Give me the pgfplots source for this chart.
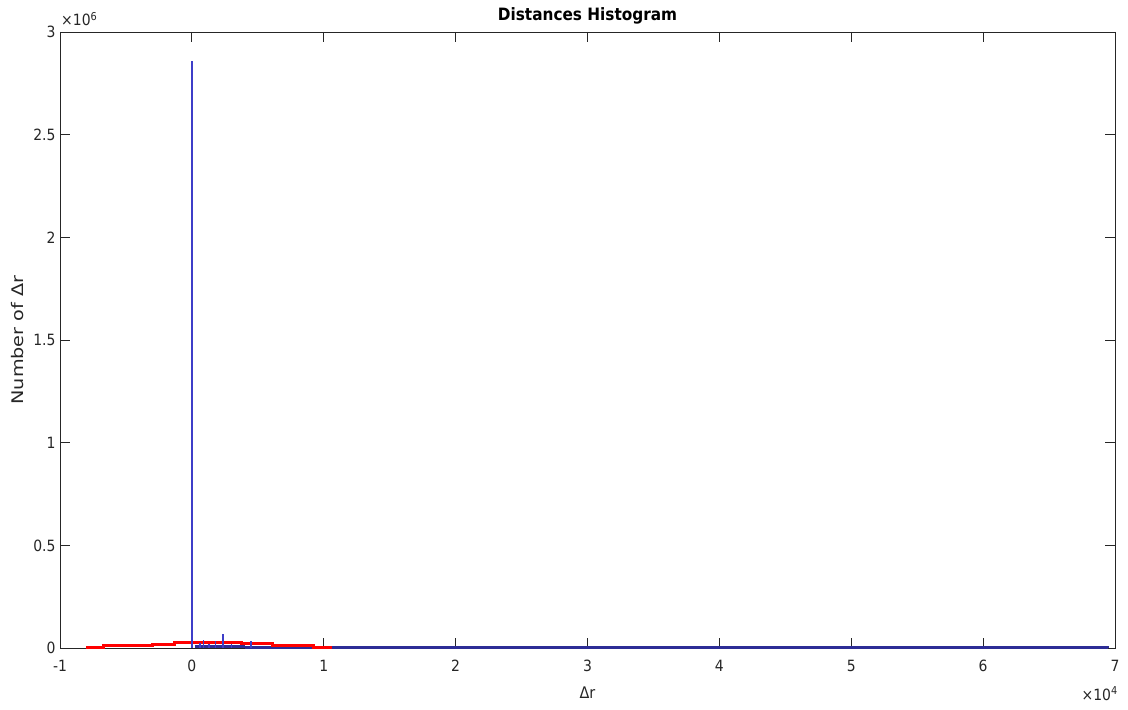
\documentclass[border=0pt]{standalone}
\usepackage{pgfplots}
\pgfplotsset{compat=1.18}
\usepackage{fontspec}
\setmainfont{DejaVu Sans Condensed}
\newfontfamily\widefont{DejaVu Sans}
\definecolor{axgray}{RGB}{38,38,38}
\definecolor{mblue}{RGB}{45,45,150}
\definecolor{sblue}{RGB}{62,62,200}
\newcommand\tickfont{\fontsize{15.5}{18}\selectfont}
\begin{document}
\begin{tikzpicture}
\begin{axis}[
  scale only axis, width=1055pt, height=616pt,
  xmin=-1, xmax=7, ymin=0, ymax=3,
  xtick={-1,0,1,2,3,4,5,6,7},
  xticklabels={-1,0,1,2,3,4,5,6,7},
  ytick={0,0.5,1,1.5,2,2.5,3},
  yticklabels={0,0.5,1,1.5,2,2.5,3},
  scaled ticks=false,
  tick align=inside, major tick length=10pt,
  axis line style={axgray, line width=0.8pt},
  tick style={axgray, line width=0.8pt},
  xticklabel style={font=\tickfont, text=axgray, yshift=-8.5pt},
  yticklabel style={font=\tickfont, text=axgray, xshift=-1pt},
]
% blue histogram body
\addplot[mblue, line width=2.5pt] coordinates {(0.40,0.002) (6.95,0.002)};
\addplot[mblue, line width=3pt] coordinates {(0.02,0.008) (0.40,0.008)};
% red histogram (stairs)
\addplot[red, line width=3pt, const plot mark left] coordinates {
  (-0.80,0.004) (-0.67,0.010) (-0.30,0.017) (-0.13,0.026) (0.38,0.020)
  (0.61,0.011) (0.92,0.005) (1.06,0.005)
};
% blue spikes
\addplot[sblue, line width=1.5pt, ycomb] coordinates {
  (0.0,2.86) (0.06,0.024) (0.09,0.040) (0.13,0.020) (0.18,0.035) (0.235,0.068)
  (0.30,0.018) (0.45,0.033)
};
\addplot[mblue, line width=1pt, ycomb] coordinates {
  (4.31,0.010) (4.58,0.012) (4.63,0.010) (4.77,0.012) (4.86,0.010) (4.94,0.012)
  (5.04,0.012) (5.11,0.010) (5.22,0.012) (5.34,0.010) (5.47,0.012) (5.52,0.010)
  (5.58,0.011) (5.69,0.012) (5.77,0.010) (5.85,0.011) (5.92,0.012) (6.11,0.009)
  (6.21,0.010) (6.35,0.009) (6.45,0.010) (6.50,0.009) (6.62,0.009) (6.72,0.009)
  (6.92,0.009) (6.95,0.009)
};
\end{axis}
\node[font=\fontsize{17}{20}\selectfont\bfseries, text=black, anchor=base] at ([yshift=11pt]current axis.north) {Distances Histogram};
\node[font=\fontsize{16}{19}\selectfont, text=axgray, anchor=base] at ([yshift=-50pt]current axis.south) {Δr};
\node[font=\widefont\fontsize{16}{19}\selectfont, text=axgray, rotate=90, anchor=center] at ([xshift=-42pt]current axis.west) {\scalebox{1.2}[1]{Number of Δr}};
\node[font=\tickfont, text=axgray, anchor=base west, inner sep=0pt] at ([xshift=1pt,yshift=6pt]current axis.north west) {×10\textsuperscript{6}};
\node[font=\tickfont, text=axgray, anchor=base east, inner sep=0pt] at ([xshift=3pt,yshift=-52pt]current axis.south east) {×10\textsuperscript{4}};
\pgfresetboundingbox
\path (current axis.south west) ++(-60pt,-61pt) rectangle ([shift={(13pt,32pt)}]current axis.north east);
\end{tikzpicture}
\end{document}
